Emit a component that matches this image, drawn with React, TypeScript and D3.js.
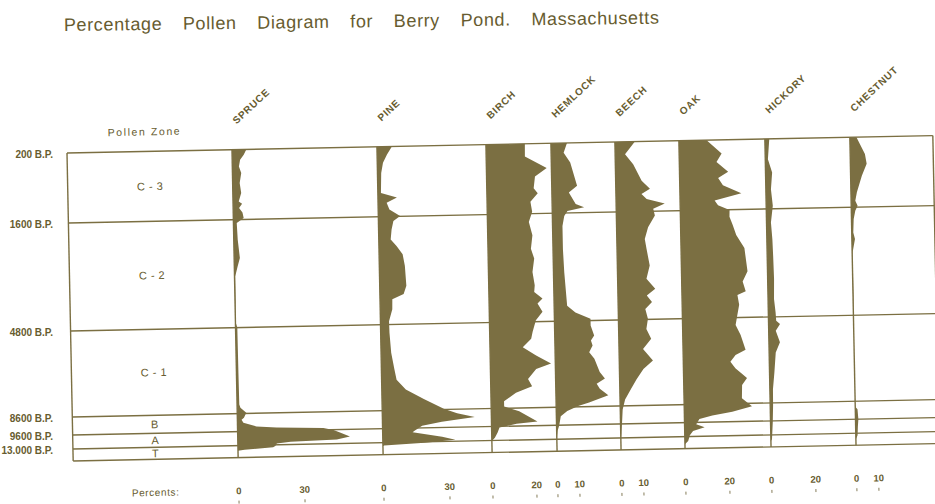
import React, { useEffect, useRef } from 'react'
import * as d3 from 'd3'

const width = 935
const height = 504

const title = 'Percentage Pollen Diagram for Berry Pond. Massachusetts'

// zone boundaries in years B.P.
const zoneAges = [200, 1600, 4800, 8600, 9600, 13000]
const zoneAgeLabels = ['200 B.P.', '1600 B.P.', '4800 B.P.', '8600 B.P.', '9600 B.P.', '13.000 B.P.']
const baseAge = 16000
const zoneNames = ['C - 3', 'C - 2', 'C - 1', 'B', 'A', 'T']

const taxa = ['SPRUCE', 'PINE', 'BIRCH', 'HEMLOCK', 'BEECH', 'OAK', 'HICKORY', 'CHESTNUT']
const taxaTicks = [[0, 30], [0, 30], [0, 20], [0, 10], [0, 10], [0, 20], [0, 20], [0, 10]]

// [age B.P., percent]
const spruce = [
  [200, 6.5], [304, 5.3], [404, 3.6], [538, 3.0], [670, 4.0], [870, 3.2], [1070, 3.8], [1238, 2.6],
  [1284, 4.1], [1370, 2.7], [1458, 4.2], [1570, 4.7], [1704, 1.5], [2198, 1.8], [2740, 2.6], [2988, 1.5],
  [3284, 0.3], [4667, 0.2], [4800, 0.8], [6811, 0.9], [8200, 1.0], [8345, 1.5], [8565, 4.1], [8833, 3.0],
  [8944, 1.9], [9111, 2.7], [9333, 8.6], [9417, 17.7], [9500, 39], [9649, 43.6], [10378, 46.8], [11350, 51],
  [12000, 45], [12318, 24], [12680, 17.7], [13300, 17], [13600, 16], [14050, 3], [14300, 0]
]
const pine = [
  [200, 6.8], [358, 4.5], [524, 2.6], [724, 1.7], [1124, 1.4], [1224, 8.6], [1324, 3.9], [1458, 5.1],
  [1592, 9.9], [1736, 6.8], [1982, 5.9], [2278, 5.4], [2476, 8.0], [2722, 10.7], [3068, 11.6], [3660, 12.1],
  [3906, 10.8], [4054, 5.6], [4350, 5.5], [4700, 3.9], [5162, 4.0], [6046, 4.6], [6784, 5.9], [7240, 6.8],
  [7682, 10.9], [8124, 19], [8566, 28], [8817, 34], [9056, 42], [9278, 27], [9484, 18], [10232, 14.5],
  [10620, 13.6], [11836, 27], [12662, 33], [13225, 19], [13725, 0.5], [13900, 0]
]
const birch = [
  [200, 17.7], [456, 17.6], [693, 27.4], [860, 22], [1094, 21.3], [1195, 23.1], [1362, 19.7], [1563, 20.4],
  [1846, 18.8], [2242, 20.3], [2636, 19.5], [2932, 20.9], [3327, 20], [3724, 20.9], [3920, 20.6], [4117, 24.3],
  [4265, 22], [4513, 24.2], [4760, 21.1], [5257, 19.5], [5555, 18.8], [5923, 14.9], [6297, 20.9], [6666, 27.6],
  [6888, 20.8], [7332, 17], [7650, 18.8], [7921, 11.4], [8294, 5.9], [8516, 5.9], [8788, 12.7], [9376, 20.9],
  [9471, 11.4], [9892, 3.6], [11107, 2.7], [12322, 1.4], [13100, 0]
]
const hemlock = [
  [200, 7.3], [392, 5.7], [592, 8.6], [1060, 11.5], [1192, 7.7], [1426, 10.7], [1492, 14.5], [1560, 6.9],
  [1689, 5.4], [1985, 4.5], [2674, 4.5], [3364, 4.9], [4352, 5.9], [4551, 9.6], [4749, 16.4], [5021, 16.4],
  [5463, 17.9], [5684, 16.4], [5905, 17.1], [6199, 15.5], [6495, 17.8], [7083, 20.1], [7377, 22.4], [7600, 18.6],
  [7820, 20], [8115, 23.8], [8420, 15], [8560, 10], [8822, 5], [9100, 2], [9700, 1.2], [10800, 0.5], [12800, 0]
]
const beech = [
  [200, 9.1], [450, 4.5], [650, 8.1], [984, 11.8], [1150, 15.5], [1250, 11.6], [1350, 13.9], [1450, 22.1],
  [1550, 16.8], [1724, 17.5], [2068, 14.3], [2414, 12.7], [2710, 13.4], [3204, 14.7], [3598, 13.1], [3894, 17],
  [4092, 13.1], [4290, 15.4], [4489, 12.3], [4785, 13.4], [5220, 12.6], [5662, 14.7], [6104, 10.9], [6621, 15.3],
  [6988, 10.9], [7430, 7.7], [7872, 5], [8314, 2.3], [8795, 1.1], [9350, 0.8], [12150, 0.3], [13400, 0]
]
const oak = [
  [200, 12.6], [474, 19.3], [640, 16.9], [840, 22.1], [960, 17.5], [1108, 19.6], [1274, 27.9], [1408, 15.7],
  [1508, 17.2], [1612, 22.4], [1807, 22.3], [2056, 23.7], [2352, 25.2], [2746, 28.8], [3436, 30], [3732, 27.7],
  [4028, 29], [4128, 25.2], [4423, 25.9], [4719, 25], [5127, 24.1], [5569, 26.3], [6232, 28.4], [6453, 23.8],
  [6745, 21.4], [7040, 23.6], [7482, 28.8], [7778, 26.5], [8366, 26.3], [8767, 30.8], [9045, 21.8], [9234, 12.7],
  [9417, 6.8], [10013, 5.3], [10815, 9.1], [11641, 3.8], [12684, 2.3], [14100, 1.5], [14925, 0]
]
const hickory = [
  [200, 2.0], [606, 1.2], [872, 3.0], [1206, 2.3], [1540, 3.0], [2003, 2.0], [2497, 2.5], [2991, 2.7],
  [3681, 2.9], [4273, 2.7], [4670, 3.3], [4977, 3.5], [5123, 5.2], [5419, 3.2], [5932, 5.0], [6374, 3.0],
  [7258, 2.2], [7996, 1.4], [8767, 1.3], [9989, 1.0], [14075, 0.5], [14500, 0]
]
const chestnut = [
  [200, 3.0], [538, 6.7], [738, 7.4], [972, 5.1], [1304, 2.7], [1472, 1.9], [1572, 2.9], [1707, 1.8],
  [1952, 1.0], [2346, 0.7], [2544, 1.4], [2938, 0.2], [4500, 0.2], [4700, 0], [8900, 0], [9050, 1.0],
  [9600, 1.3], [11500, 1.0], [13500, 0.8], [14500, 0]
]
const series = [spruce, pine, birch, hemlock, beech, oak, hickory, chestnut]

// layout
const boxLeft = 67
const boxRight = 933
const zoneY = [153, 223, 331, 417, 435, 449, 461]
const columnLeft = [232, 377, 486, 551, 615, 679, 765, 850]
const tilt = -1.15

const ink = '#675c30'
const fillColor = '#7b6f42'
const font = "'Liberation Sans', Arial, sans-serif"

export default function App() {
  const ref = useRef<SVGSVGElement>(null)

  useEffect(() => {
    const svg = d3.select(ref.current)
    svg.selectAll('*').remove()

    const y = d3.scaleLinear().domain([...zoneAges, baseAge]).range(zoneY)
    const pct = d3.scaleLinear().domain([0, 10]).range([0, 22])
    const col = d3.scaleOrdinal<string, number>().domain(taxa).range(columnLeft)

    svg.append('rect').attr('width', width).attr('height', height).attr('fill', '#fff')

    svg
      .append('text')
      .attr('x', 64)
      .attr('y', 31)
      .attr('transform', 'rotate(-0.7 64 31)')
      .attr('textLength', 595)
      .attr('lengthAdjust', 'spacing')
      .style('font-family', font)
      .style('font-size', '18px')
      .style('word-spacing', '15px')
      .attr('fill', ink)
      .text(title)

    // age labels
    svg
      .selectAll('text.age')
      .data(zoneAges)
      .join('text')
      .attr('class', 'age')
      .attr('x', 53)
      .attr('y', d => y(d) + 2)
      .attr('text-anchor', 'end')
      .attr('dominant-baseline', 'middle')
      .style('font-family', font)
      .style('font-size', '10px')
      .style('font-weight', 'bold')
      .attr('fill', ink)
      .text((d, i) => zoneAgeLabels[i])

    const g = svg.append('g').attr('transform', `rotate(${tilt} ${boxLeft} ${zoneY[0]})`)

    g.selectAll('line.zone')
      .data([...zoneAges, baseAge])
      .join('line')
      .attr('class', 'zone')
      .attr('x1', boxLeft)
      .attr('x2', boxRight)
      .attr('y1', d => y(d))
      .attr('y2', d => y(d))
      .attr('stroke', fillColor)
      .attr('stroke-width', 1.4)

    g.selectAll('line.col')
      .data([boxLeft, ...columnLeft, boxRight])
      .join('line')
      .attr('class', 'col')
      .attr('x1', d => d)
      .attr('x2', d => d)
      .attr('y1', y(zoneAges[0]))
      .attr('y2', y(baseAge))
      .attr('stroke', fillColor)
      .attr('stroke-width', 1.4)

    taxa.forEach((name, i) => {
      const x0 = col(name)
      const area = d3
        .area<number[]>()
        .y(d => y(d[0]))
        .x0(x0)
        .x1(d => x0 + pct(d[1]))
      g.append('path').datum(series[i]).attr('d', area).attr('fill', fillColor)
    })

    // taxon names
    g.selectAll('text.taxon')
      .data(taxa)
      .join('text')
      .attr('class', 'taxon')
      .attr('transform', d => `translate(${col(d) + 5},${zoneY[0] - 25}) rotate(-42)`)
      .style('font-family', font)
      .style('font-size', '10px')
      .style('letter-spacing', '0.8px')
      .style('font-weight', 'bold')
      .attr('fill', ink)
      .text(d => d)

    g.append('text')
      .attr('x', 108)
      .attr('y', 137)
      .attr('textLength', 72)
      .attr('lengthAdjust', 'spacing')
      .style('font-family', font)
      .style('font-size', '10.5px')
      .attr('fill', ink)
      .text('Pollen Zone')

    // zone names
    const zoneMid = (boxLeft + columnLeft[0]) / 2
    g.selectAll('text.zname')
      .data(zoneNames)
      .join('text')
      .attr('class', 'zname')
      .attr('x', zoneMid)
      .attr('y', (d, i) => (y(zoneAges[i]) + y(i < zoneAges.length - 1 ? zoneAges[i + 1] : baseAge)) / 2 + 1)
      .attr('text-anchor', 'middle')
      .attr('dominant-baseline', 'middle')
      .style('font-family', font)
      .style('font-size', '11px')
      .style('letter-spacing', '0.5px')
      .attr('fill', ink)
      .text(d => d)

    // percent scales
    g.append('text')
      .attr('x', 125)
      .attr('y', 495)
      .attr('dominant-baseline', 'middle')
      .style('font-family', font)
      .style('font-size', '10px')
      .style('letter-spacing', '0.6px')
      .attr('fill', ink)
      .text('Percents:')

    const ticks = taxa.flatMap((name, i) => taxaTicks[i].map(t => ({ x: col(name) + pct(t), t })))
    g.selectAll('text.tick')
      .data(ticks)
      .join('text')
      .attr('class', 'tick')
      .attr('x', d => d.x)
      .attr('y', 495)
      .attr('text-anchor', 'middle')
      .attr('dominant-baseline', 'middle')
      .style('font-family', font)
      .style('font-size', '9.5px')
      .style('font-weight', 'bold')
      .attr('fill', ink)
      .text(d => d.t)

    g.selectAll('line.tick')
      .data(ticks)
      .join('line')
      .attr('class', 'tick')
      .attr('x1', d => d.x)
      .attr('x2', d => d.x)
      .attr('y1', 504)
      .attr('y2', 507)
      .attr('stroke', ink)
      .attr('stroke-width', 0.8)
  }, [])

  return (
    <svg
      ref={ref}
      width={width}
      height={height}
      style={{ position: 'absolute', left: 0, top: 0, display: 'block' }}
    />
  )
}
